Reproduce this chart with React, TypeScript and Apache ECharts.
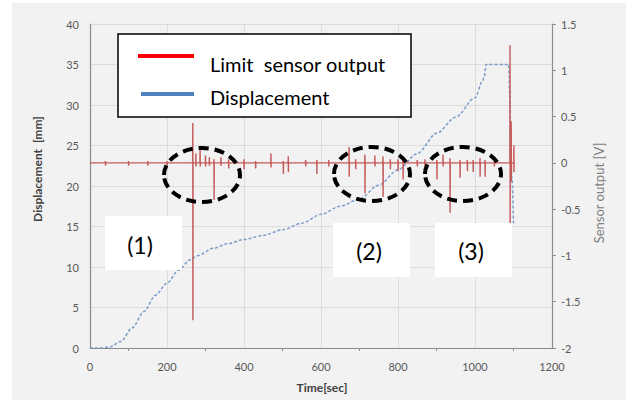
import React, { useEffect, useRef } from "react";
import * as echarts from "echarts";

// Displacement curve (time in s, displacement in mm)
const dispTime = [0, 20, 50, 80, 110, 140, 170, 200, 230, 260, 280, 320, 360, 400, 450, 500, 550, 600, 650, 700, 750, 800, 850, 900, 950, 1000, 1020, 1024, 1029, 1087, 1096, 1100];
const dispMm = [0, 0, 0.1, 0.8, 2.5, 4.5, 6.5, 8, 9.6, 10.9, 11.4, 12.3, 12.9, 13.4, 13.9, 14.6, 15.4, 16.5, 17.5, 18.4, 20.1, 22, 24, 26.5, 28.5, 30.9, 33, 33.5, 35, 35, 21, 15.4];

// Limit sensor output: spike times, peak highs and lows (V), baseline 0
const spikeTime = [40, 100, 150, 200, 267, 275, 286, 300, 310, 322, 340, 360, 400, 430, 470, 502, 515, 560, 589, 620, 673, 690, 714, 740, 761, 780, 800, 813, 850, 870, 901, 917, 935, 961, 980, 995, 1013, 1026, 1050, 1091, 1094, 1101];
const spikeHigh = [0.02, 0.02, 0.02, 0.02, 0.43, 0.1, 0.17, 0.08, 0.06, 0.04, 0.06, 0.04, 0.04, 0.02, 0.1, 0.02, 0.07, 0.03, 0.03, 0.03, 0.17, 0.04, 0.09, 0.08, 0.07, 0.04, 0.04, 0.03, 0.03, 0.04, 0.03, 0.09, 0.05, 0.03, 0.03, 0.03, 0.05, 0.03, 0.02, 1.27, 0.45, 0.19];
const spikeLow = [-0.03, -0.03, -0.03, -0.03, -1.7, -0.04, -0.04, -0.04, -0.03, -0.4, -0.03, -0.06, -0.07, -0.06, -0.05, -0.12, -0.1, -0.04, -0.12, -0.04, -0.15, -0.07, -0.33, -0.04, -0.37, -0.07, -0.09, -0.18, -0.04, -0.05, -0.18, -0.04, -0.54, -0.16, -0.09, -0.1, -0.15, -0.15, -0.04, -0.65, -0.2, -0.1];
const sensorStart = 0;
const sensorEnd = 1102;

const xMin = 0, xMax = 1200, xStep = 200;
const leftMin = 0, leftMax = 40, leftStep = 5;
const rightMin = -2, rightMax = 1.5, rightStep = 0.5;

const legendNames = ["Limit  sensor output", "Displacement"];
const regionLabels = ["(1)", "(2)", "(3)"];
const axisNames = ["Time[sec]", "Displacement  [mm]", "Sensor output [V]"];

const FONT = "Lato, 'Open Sans', sans-serif";

export default function App() {
  const ref = useRef<HTMLDivElement>(null);
  useEffect(() => {
    if (!ref.current) return;
    const chart = echarts.init(ref.current, undefined, { renderer: "svg" });

    const dispData = dispTime.map((t, i) => [t, dispMm[i]]);
    const sensorData: number[][] = [[sensorStart, 0]];
    spikeTime.forEach((t, i) => {
      sensorData.push([t - 0.4, 0], [t, spikeHigh[i]], [t + 0.3, spikeLow[i]], [t + 0.7, 0]);
    });
    sensorData.push([sensorEnd, 0]);

    const labelStyle = { color: "#595959", fontSize: 11, fontFamily: FONT };

    const ellipses = [
      { cx: 202, cy: 175 },
      { cx: 372, cy: 174 },
      { cx: 463, cy: 174 },
    ];
    const boxes = [
      { x: 105, y: 216, tx: 140, ty: 245 },
      { x: 333, y: 223, tx: 369, ty: 251 },
      { x: 435, y: 223, tx: 471, ty: 251 },
    ];

    chart.setOption({
      animation: false,
      backgroundColor: "#ffffff",
      grid: { left: 90, right: 75, top: 24, bottom: 62, show: false },
      xAxis: {
        type: "value",
        min: xMin,
        max: xMax,
        interval: xStep,
        axisLine: { show: true, lineStyle: { color: "#8c8c8c", width: 1.2 } },
        axisTick: { show: false },
        minorTick: { show: true, splitNumber: 2, length: 3, lineStyle: { color: "#8c8c8c" } },
        splitLine: { show: true, lineStyle: { color: "#dcdcdc", width: 1 } },
        axisLabel: { ...labelStyle, margin: 13, formatter: (v: number) => String(v) },
      },
      yAxis: [
        {
          type: "value",
          min: leftMin,
          max: leftMax,
          interval: leftStep,
          axisLine: { show: true, lineStyle: { color: "#8c8c8c", width: 1.2 } },
          axisTick: { show: false },
          splitLine: { show: true, lineStyle: { color: "#dcdcdc", width: 1 } },
          axisLabel: { ...labelStyle, margin: 11 },
        },
        {
          type: "value",
          position: "right",
          min: rightMin,
          max: rightMax,
          interval: rightStep,
          axisLine: { show: true, lineStyle: { color: "#8c8c8c", width: 1.2 } },
          axisTick: { show: true, inside: false, length: 4, lineStyle: { color: "#8c8c8c" } },
          splitLine: { show: false },
          axisLabel: { ...labelStyle, margin: 9 },
        },
      ],
      series: [
        {
          name: legendNames[1],
          type: "line",
          yAxisIndex: 0,
          data: dispData,
          showSymbol: false,
          smooth: 0.3,
          smoothMonotone: "x",
          lineStyle: { color: "#7a9ccb", width: 1.5, type: [3, 2] },
          z: 2,
        },
        {
          name: legendNames[0],
          type: "line",
          yAxisIndex: 1,
          data: sensorData,
          showSymbol: false,
          lineStyle: { color: "#c4595a", width: 1.4 },
          z: 3,
        },
      ],
      graphic: [
        { type: "rect", z: -10, shape: { x: 12, y: 3, width: 614, height: 397 }, style: { fill: "#f2f2f2" } },
        // legend box
        { type: "rect", z: 100, shape: { x: 118, y: 34, width: 293, height: 83 }, style: { fill: "#ffffff", stroke: "#000000", lineWidth: 1.5 } },
        { type: "line", z: 101, shape: { x1: 138, y1: 56, x2: 194, y2: 56 }, style: { stroke: "#ff0000", lineWidth: 4 } },
        { type: "line", z: 101, shape: { x1: 141, y1: 94, x2: 194, y2: 94 }, style: { stroke: "#4f81bd", lineWidth: 4 } },
        { type: "text", z: 101, x: 210, y: 64, style: { text: legendNames[0], fill: "#000", font: `20px ${FONT}`, verticalAlign: "middle" } },
        { type: "text", z: 101, x: 210, y: 97, style: { text: legendNames[1], fill: "#000", font: `20px ${FONT}`, verticalAlign: "middle" } },
        // region labels
        ...boxes.flatMap((b, i) => [
          { type: "rect", z: 100, shape: { x: b.x, y: b.y, width: 77, height: 54 }, style: { fill: "#ffffff" } },
          { type: "text", z: 101, x: b.tx, y: b.ty, style: { text: regionLabels[i], fill: "#000", font: `23px ${FONT}`, align: "center", verticalAlign: "middle" } },
        ]),
        // dashed ellipses
        ...ellipses.map((e) => ({
          type: "ellipse",
          z: 110,
          shape: { cx: e.cx, cy: e.cy, rx: 38, ry: 27 },
          style: { fill: "none", stroke: "#000000", lineWidth: 4, lineDash: [10, 6] },
        })),
        // axis names
        { type: "text", z: 50, x: 322, y: 387, style: { text: axisNames[0], fill: "#404040", font: `bold 12px ${FONT}`, align: "center", verticalAlign: "middle" } },
        { type: "text", z: 50, x: 37, y: 169, rotation: Math.PI / 2, style: { text: axisNames[1], fill: "#404040", font: `bold 12px ${FONT}`, align: "center", verticalAlign: "middle" } },
        { type: "text", z: 50, x: 599, y: 193, rotation: Math.PI / 2, style: { text: axisNames[2], fill: "#808080", font: `13px ${FONT}`, align: "center", verticalAlign: "middle" } },
      ],
    });
    return () => chart.dispose();
  }, []);
  return <div ref={ref} style={{ position: "fixed", left: 0, top: 0, width: 627, height: 410 }} />;
}
